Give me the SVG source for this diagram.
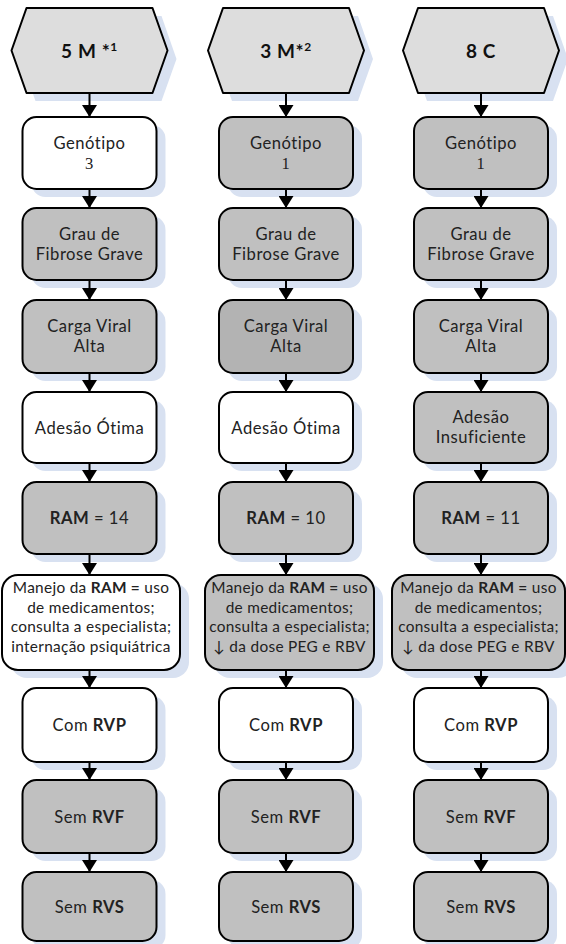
<svg xmlns="http://www.w3.org/2000/svg" width="566" height="944" viewBox="0 0 566 944">
<defs>
<style>
.sh{fill:#d8e1f1}
.hx{fill:#dddddd;stroke:#000;stroke-width:2;stroke-linejoin:round}
.w{fill:#ffffff;stroke:#000;stroke-width:2}
.g{fill:#c0c0c0;stroke:#000;stroke-width:2}
.gd{fill:#b3b3b3;stroke:#000;stroke-width:2}
text{font-family:Lato,"Open Sans","DejaVu Sans",sans-serif;font-size:16.6px;letter-spacing:0.5px;fill:#222;text-anchor:middle}
.ht{font-weight:bold;font-size:19px;letter-spacing:0.6px;fill:#111}
.sm{font-size:15.4px;letter-spacing:0.3px}
.num{font-family:"Liberation Serif",serif;font-size:16.6px}
.b{font-weight:bold}
.c line{stroke:#000;stroke-width:2}
</style>
<marker id="ah" markerUnits="userSpaceOnUse" markerWidth="15" markerHeight="15" refX="12" refY="7.5" orient="auto">
<path d="M0,0 L12,7.5 L0,15 z" fill="#000"/>
</marker>
</defs>

<!-- Column 1 -->
<g id="c1-head"><polygon class="sh" points="20.5,59 35.5,16 161.5,16 176.5,59 161.5,101 35.5,101"/><polygon class="hx" points="11.5,50.5 26.5,8 152.5,8 167.5,50.5 152.5,93 26.5,93"/><text class="ht" x="89.5" y="57.5">5 M *<tspan font-size="12" dy="-7">1</tspan></text></g>
<g id="c1-genotipo"><rect class="sh" x="31.5" y="125" width="134" height="72" rx="14"/><rect class="w" x="22.5" y="117" width="134" height="72" rx="14"/><text x="89.5" y="148.5">Genótipo<tspan class="num" x="89.5" dy="20.5">3</tspan></text></g>
<g id="c1-fibrose"><rect class="sh" x="31.5" y="216" width="134" height="72" rx="14"/><rect class="g" x="22.5" y="208" width="134" height="72" rx="14"/><text x="89.5" y="239.5">Grau de<tspan x="89.5" dy="20">Fibrose Grave</tspan></text></g>
<g id="c1-carga"><rect class="sh" x="31.5" y="308" width="134" height="73" rx="14"/><rect class="g" x="22.5" y="300" width="134" height="73" rx="14"/><text x="89.5" y="332">Carga Viral<tspan x="89.5" dy="20">Alta</tspan></text></g>
<g id="c1-adesao"><rect class="sh" x="31.5" y="400" width="134" height="71" rx="14"/><rect class="w" x="22.5" y="392" width="134" height="71" rx="14"/><text x="89.5" y="433.5">Adesão Ótima</text></g>
<g id="c1-ram"><rect class="sh" x="31.5" y="490" width="134" height="72" rx="14"/><rect class="g" x="22.5" y="482" width="134" height="72" rx="14"/><text x="89.5" y="524"><tspan class="b">RAM</tspan> = 14</text></g>
<g id="c1-manejo"><rect class="sh" x="11" y="583" width="178" height="95" rx="16"/><rect class="w" x="2" y="575" width="178" height="95" rx="16"/><text class="sm" x="91" y="593">Manejo da <tspan class="b">RAM =</tspan> uso<tspan x="91" dy="19.5">de medicamentos;</tspan><tspan x="91" dy="19.5">consulta a especialista;</tspan><tspan x="91" dy="19.5">internação psiquiátrica</tspan></text></g>
<g id="c1-rvp"><rect class="sh" x="31.5" y="696" width="134" height="74" rx="14"/><rect class="w" x="22.5" y="688" width="134" height="74" rx="14"/><text x="89.5" y="731">Com <tspan class="b">RVP</tspan></text></g>
<g id="c1-rvf"><rect class="sh" x="31.5" y="788" width="134" height="73" rx="14"/><rect class="g" x="22.5" y="780" width="134" height="73" rx="14"/><text x="89.5" y="822.5">Sem <tspan class="b">RVF</tspan></text></g>
<g id="c1-rvs"><rect class="sh" x="31.5" y="880" width="134" height="69" rx="14"/><rect class="g" x="22.5" y="872" width="134" height="69" rx="14"/><text x="89.5" y="912.5">Sem <tspan class="b">RVS</tspan></text></g>

<!-- Column 2 -->
<g id="c2-head"><polygon class="sh" points="217,59 232,16 358,16 373,59 358,101 232,101"/><polygon class="hx" points="208,50.5 223,8 349,8 364,50.5 349,93 223,93"/><text class="ht" x="286" y="57.5">3 M*<tspan font-size="12" dy="-7">2</tspan></text></g>
<g id="c2-genotipo"><rect class="sh" x="228" y="125" width="134" height="72" rx="14"/><rect class="g" x="219" y="117" width="134" height="72" rx="14"/><text x="286" y="148.5">Genótipo<tspan class="num" x="286" dy="20.5">1</tspan></text></g>
<g id="c2-fibrose"><rect class="sh" x="228" y="216" width="134" height="72" rx="14"/><rect class="g" x="219" y="208" width="134" height="72" rx="14"/><text x="286" y="239.5">Grau de<tspan x="286" dy="20">Fibrose Grave</tspan></text></g>
<g id="c2-carga"><rect class="sh" x="228" y="308" width="134" height="73" rx="14"/><rect class="gd" x="219" y="300" width="134" height="73" rx="14"/><text x="286" y="332">Carga Viral<tspan x="286" dy="20">Alta</tspan></text></g>
<g id="c2-adesao"><rect class="sh" x="228" y="400" width="134" height="71" rx="14"/><rect class="w" x="219" y="392" width="134" height="71" rx="14"/><text x="286" y="433.5">Adesão Ótima</text></g>
<g id="c2-ram"><rect class="sh" x="228" y="490" width="134" height="72" rx="14"/><rect class="g" x="219" y="482" width="134" height="72" rx="14"/><text x="286" y="524"><tspan class="b">RAM</tspan> = 10</text></g>
<g id="c2-manejo"><rect class="sh" x="214" y="583" width="169" height="95" rx="16"/><rect class="g" x="205" y="575" width="169" height="95" rx="16"/><text class="sm" x="289.5" y="593">Manejo da <tspan class="b">RAM =</tspan> uso<tspan x="289.5" dy="19.5">de medicamentos;</tspan><tspan x="289.5" dy="19.5">consulta a especialista;</tspan><tspan x="289.5" dy="19.5">↓ da dose PEG e RBV</tspan></text></g>
<g id="c2-rvp"><rect class="sh" x="228" y="696" width="134" height="74" rx="14"/><rect class="w" x="219" y="688" width="134" height="74" rx="14"/><text x="286" y="731">Com <tspan class="b">RVP</tspan></text></g>
<g id="c2-rvf"><rect class="sh" x="228" y="788" width="134" height="73" rx="14"/><rect class="g" x="219" y="780" width="134" height="73" rx="14"/><text x="286" y="822.5">Sem <tspan class="b">RVF</tspan></text></g>
<g id="c2-rvs"><rect class="sh" x="228" y="880" width="134" height="69" rx="14"/><rect class="g" x="219" y="872" width="134" height="69" rx="14"/><text x="286" y="912.5">Sem <tspan class="b">RVS</tspan></text></g>

<!-- Column 3 -->
<g id="c3-head"><polygon class="sh" points="412,59 427,16 553,16 568,59 553,101 427,101"/><polygon class="hx" points="403,50.5 418,8 544,8 559,50.5 544,93 418,93"/><text class="ht" x="481" y="57.5">8 C</text></g>
<g id="c3-genotipo"><rect class="sh" x="423" y="125" width="134" height="72" rx="14"/><rect class="g" x="414" y="117" width="134" height="72" rx="14"/><text x="481" y="148.5">Genótipo<tspan class="num" x="481" dy="20.5">1</tspan></text></g>
<g id="c3-fibrose"><rect class="sh" x="423" y="216" width="134" height="72" rx="14"/><rect class="g" x="414" y="208" width="134" height="72" rx="14"/><text x="481" y="239.5">Grau de<tspan x="481" dy="20">Fibrose Grave</tspan></text></g>
<g id="c3-carga"><rect class="sh" x="423" y="308" width="134" height="73" rx="14"/><rect class="g" x="414" y="300" width="134" height="73" rx="14"/><text x="481" y="332">Carga Viral<tspan x="481" dy="20">Alta</tspan></text></g>
<g id="c3-adesao"><rect class="sh" x="423" y="400" width="134" height="71" rx="14"/><rect class="g" x="414" y="392" width="134" height="71" rx="14"/><text x="481" y="423">Adesão<tspan x="481" dy="20">Insuficiente</tspan></text></g>
<g id="c3-ram"><rect class="sh" x="423" y="490" width="134" height="72" rx="14"/><rect class="g" x="414" y="482" width="134" height="72" rx="14"/><text x="481" y="524"><tspan class="b">RAM</tspan> = 11</text></g>
<g id="c3-manejo"><rect class="sh" x="401" y="583" width="173" height="95" rx="16"/><rect class="g" x="392" y="575" width="173" height="95" rx="16"/><text class="sm" x="478.5" y="593">Manejo da <tspan class="b">RAM =</tspan> uso<tspan x="478.5" dy="19.5">de medicamentos;</tspan><tspan x="478.5" dy="19.5">consulta a especialista;</tspan><tspan x="478.5" dy="19.5">↓ da dose PEG e RBV</tspan></text></g>
<g id="c3-rvp"><rect class="sh" x="423" y="696" width="134" height="74" rx="14"/><rect class="w" x="414" y="688" width="134" height="74" rx="14"/><text x="481" y="731">Com <tspan class="b">RVP</tspan></text></g>
<g id="c3-rvf"><rect class="sh" x="423" y="788" width="134" height="73" rx="14"/><rect class="g" x="414" y="780" width="134" height="73" rx="14"/><text x="481" y="822.5">Sem <tspan class="b">RVF</tspan></text></g>
<g id="c3-rvs"><rect class="sh" x="423" y="880" width="134" height="69" rx="14"/><rect class="g" x="414" y="872" width="134" height="69" rx="14"/><text x="481" y="912.5">Sem <tspan class="b">RVS</tspan></text></g>

<!-- Connectors -->
<g id="connectors" class="c">
<line x1="89.5" y1="93" x2="89.5" y2="117" marker-end="url(#ah)"/>
<line x1="89.5" y1="189" x2="89.5" y2="208" marker-end="url(#ah)"/>
<line x1="89.5" y1="280" x2="89.5" y2="300" marker-end="url(#ah)"/>
<line x1="89.5" y1="373" x2="89.5" y2="392" marker-end="url(#ah)"/>
<line x1="89.5" y1="463" x2="89.5" y2="482" marker-end="url(#ah)"/>
<line x1="89.5" y1="554" x2="89.5" y2="575" marker-end="url(#ah)"/>
<line x1="89.5" y1="670" x2="89.5" y2="688" marker-end="url(#ah)"/>
<line x1="89.5" y1="762" x2="89.5" y2="780" marker-end="url(#ah)"/>
<line x1="89.5" y1="853" x2="89.5" y2="872" marker-end="url(#ah)"/>
<line x1="286" y1="93" x2="286" y2="117" marker-end="url(#ah)"/>
<line x1="286" y1="189" x2="286" y2="208" marker-end="url(#ah)"/>
<line x1="286" y1="280" x2="286" y2="300" marker-end="url(#ah)"/>
<line x1="286" y1="373" x2="286" y2="392" marker-end="url(#ah)"/>
<line x1="286" y1="463" x2="286" y2="482" marker-end="url(#ah)"/>
<line x1="286" y1="554" x2="286" y2="575" marker-end="url(#ah)"/>
<line x1="286" y1="670" x2="286" y2="688" marker-end="url(#ah)"/>
<line x1="286" y1="762" x2="286" y2="780" marker-end="url(#ah)"/>
<line x1="286" y1="853" x2="286" y2="872" marker-end="url(#ah)"/>
<line x1="481" y1="93" x2="481" y2="117" marker-end="url(#ah)"/>
<line x1="481" y1="189" x2="481" y2="208" marker-end="url(#ah)"/>
<line x1="481" y1="280" x2="481" y2="300" marker-end="url(#ah)"/>
<line x1="481" y1="373" x2="481" y2="392" marker-end="url(#ah)"/>
<line x1="481" y1="463" x2="481" y2="482" marker-end="url(#ah)"/>
<line x1="481" y1="554" x2="481" y2="575" marker-end="url(#ah)"/>
<line x1="481" y1="670" x2="481" y2="688" marker-end="url(#ah)"/>
<line x1="481" y1="762" x2="481" y2="780" marker-end="url(#ah)"/>
<line x1="481" y1="853" x2="481" y2="872" marker-end="url(#ah)"/>
</g>
</svg>
